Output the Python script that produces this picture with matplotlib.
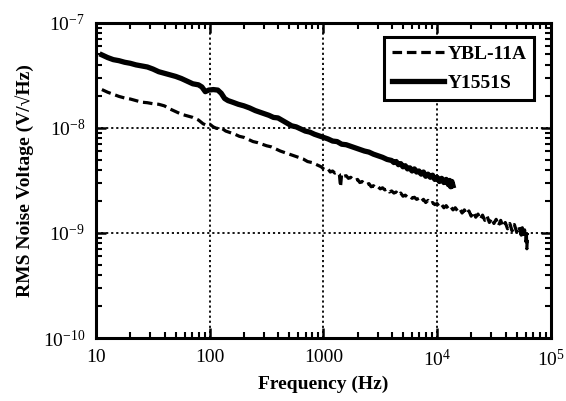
import numpy as np
import matplotlib
matplotlib.use("Agg")
import matplotlib.pyplot as plt
from matplotlib.ticker import FixedLocator, LogLocator, NullFormatter

plt.rcParams['font.family'] = ['Liberation Serif', 'DejaVu Serif']
plt.rcParams['mathtext.fontset'] = 'custom'
plt.rcParams['mathtext.rm'] = 'Liberation Serif'
plt.rcParams['mathtext.it'] = 'Liberation Serif:italic'
plt.rcParams['mathtext.bf'] = 'Liberation Serif:bold'

# ---- data (log10 of frequency in Hz, log10 of RMS noise voltage in V/sqrt(Hz)) ----
y1551s_logf = [1.05, 1.10, 1.15, 1.20, 1.25, 1.30, 1.35, 1.40, 1.45, 1.50, 1.55, 1.60,
               1.65, 1.70, 1.75, 1.80, 1.85, 1.90, 1.93, 1.96, 1.99, 2.03, 2.07, 2.10,
               2.13, 2.16, 2.20, 2.25, 2.30, 2.35, 2.40, 2.44, 2.48, 2.52, 2.56, 2.60,
               2.64, 2.68, 2.72, 2.76, 2.80, 2.84, 2.88, 2.92, 2.96, 3.00, 3.04, 3.08,
               3.12, 3.16, 3.20, 3.24, 3.28, 3.32, 3.36, 3.40, 3.44, 3.48, 3.52, 3.56,
               3.60, 3.62, 3.64, 3.66, 3.68, 3.70, 3.72, 3.74, 3.76, 3.78, 3.80, 3.82,
               3.84, 3.86, 3.88, 3.90, 3.92, 3.94, 3.96, 3.98, 4.00, 4.02, 4.04, 4.06,
               4.08, 4.10, 4.11, 4.12, 4.13, 4.14]
y1551s_logv = [-7.305, -7.33, -7.35, -7.36, -7.375, -7.385, -7.40, -7.41, -7.42, -7.44, -7.465, -7.48,
               -7.495, -7.51, -7.53, -7.555, -7.58, -7.59, -7.61, -7.655, -7.64, -7.635, -7.64, -7.67,
               -7.72, -7.74, -7.755, -7.775, -7.79, -7.81, -7.835, -7.85, -7.865, -7.88, -7.90, -7.905,
               -7.93, -7.955, -7.98, -7.99, -8.01, -8.03, -8.04, -8.06, -8.075, -8.09, -8.105, -8.125,
               -8.13, -8.155, -8.16, -8.175, -8.19, -8.205, -8.22, -8.23, -8.25, -8.265, -8.28, -8.30,
               -8.31, -8.33, -8.32, -8.35, -8.34, -8.37, -8.36, -8.39, -8.38, -8.41, -8.39, -8.42,
               -8.41, -8.44, -8.42, -8.46, -8.44, -8.47, -8.45, -8.49, -8.47, -8.51, -8.48, -8.52,
               -8.49, -8.54, -8.50, -8.56, -8.51, -8.55]

ybl11a_logf = [1.05, 1.10, 1.15, 1.20, 1.25, 1.30, 1.35, 1.40, 1.45, 1.50, 1.55, 1.60,
               1.65, 1.70, 1.75, 1.80, 1.85, 1.90, 1.94, 1.97, 2.00, 2.03, 2.06, 2.10,
               2.14, 2.18, 2.22, 2.26, 2.30, 2.34, 2.38, 2.42, 2.46, 2.50, 2.54, 2.58,
               2.62, 2.66, 2.70, 2.74, 2.78, 2.82, 2.86, 2.90, 2.94, 2.98,
               3.00, 3.02, 3.04, 3.06, 3.08, 3.10, 3.12, 3.14, 3.15, 3.16, 3.18, 3.20,
               3.22, 3.24, 3.26, 3.28, 3.30, 3.32, 3.34, 3.36, 3.38, 3.40, 3.42, 3.44,
               3.46, 3.48, 3.50, 3.52, 3.54, 3.56, 3.58, 3.60, 3.62, 3.64, 3.66, 3.68,
               3.70, 3.72, 3.74, 3.76, 3.78, 3.80, 3.82, 3.84, 3.86, 3.88, 3.90, 3.92,
               3.94, 3.96, 3.98, 4.00, 4.02, 4.04, 4.06, 4.08, 4.10, 4.12, 4.14, 4.16,
               4.18, 4.20, 4.22, 4.24, 4.26, 4.28, 4.30, 4.32, 4.34, 4.36, 4.38, 4.40,
               4.42, 4.44, 4.46, 4.48, 4.50, 4.52, 4.54, 4.56, 4.58, 4.60, 4.62, 4.64,
               4.66, 4.68, 4.70, 4.72, 4.74, 4.75, 4.76, 4.77, 4.78, 4.785, 4.79, 4.795]
ybl11a_logv = [-7.635, -7.66, -7.68, -7.70, -7.715, -7.725, -7.74, -7.755, -7.76, -7.77, -7.775, -7.79,
               -7.82, -7.845, -7.87, -7.885, -7.90, -7.925, -7.96, -7.975, -7.965, -7.99, -8.005, -8.00,
               -8.03, -8.045, -8.06, -8.08, -8.09, -8.11, -8.13, -8.14, -8.155, -8.17, -8.18, -8.20,
               -8.22, -8.235, -8.25, -8.265, -8.28, -8.295, -8.32, -8.33, -8.35, -8.37,
               -8.39, -8.40, -8.39, -8.42, -8.41, -8.43, -8.42, -8.44, -8.56, -8.44, -8.46, -8.455,
               -8.48, -8.47, -8.49, -8.50, -8.49, -8.52, -8.51, -8.53, -8.54, -8.53, -8.56, -8.55,
               -8.57, -8.56, -8.58, -8.57, -8.59, -8.58, -8.61, -8.60, -8.62, -8.61, -8.64, -8.62,
               -8.65, -8.64, -8.66, -8.65, -8.67, -8.66, -8.68, -8.67, -8.70, -8.68, -8.71, -8.69,
               -8.72, -8.71, -8.73, -8.72, -8.75, -8.73, -8.76, -8.74, -8.77, -8.75, -8.78, -8.76,
               -8.79, -8.77, -8.81, -8.78, -8.82, -8.79, -8.84, -8.80, -8.85, -8.82, -8.87, -8.83,
               -8.88, -8.84, -8.90, -8.86, -8.91, -8.87, -8.93, -8.88, -8.94, -8.90, -8.96, -8.91,
               -8.98, -8.92, -8.99, -8.94, -9.02, -8.95, -9.04, -8.97, -9.08, -8.98, -9.15, -9.00]

x_tick_vals = [10, 100, 1000, 1e4, 1e5]
x_tick_labels = ['10', '100', '1000', r'$10^4$', r'$10^5$']
y_tick_vals = [1e-10, 1e-9, 1e-8, 1e-7]
y_tick_labels = [r'$10^{-10}$', r'$10^{-9}$', r'$10^{-8}$', r'$10^{-7}$']

fig = plt.figure(figsize=(5.66, 4.01), dpi=100)
ax = fig.add_axes([0.170, 0.157, 0.803, 0.786])

ax.plot(10 ** np.array(ybl11a_logf), 10 ** np.array(ybl11a_logv), color='black', lw=2.3,
        linestyle=(0, (3.0, 1.5)), label='YBL-11A')
ax.plot(10 ** np.array(y1551s_logf), 10 ** np.array(y1551s_logv), color='black', lw=3.8,
        label='Y1551S')

ax.set_xscale('log')
ax.set_yscale('log')
ax.set_xlim(10, 1e5)
ax.set_ylim(1e-10, 1e-7)

ax.xaxis.set_major_locator(FixedLocator(x_tick_vals))
ax.set_xticklabels(x_tick_labels)
ax.yaxis.set_major_locator(FixedLocator(y_tick_vals))
ax.set_yticklabels(y_tick_labels)
ax.xaxis.set_minor_locator(LogLocator(base=10, subs=np.arange(2, 10)))
ax.yaxis.set_minor_locator(LogLocator(base=10, subs=np.arange(2, 10)))
ax.xaxis.set_minor_formatter(NullFormatter())
ax.yaxis.set_minor_formatter(NullFormatter())

ax.tick_params(which='both', direction='in', top=True, right=True, color='black')
ax.tick_params(which='major', length=7, width=1.8, labelsize=14, pad=8)
ax.tick_params(which='minor', length=4, width=1.5)
for sp in ax.spines.values():
    sp.set_linewidth(2.2)

ax.grid(True, which='major', linestyle=(0, (1.2, 1.6)), color='black', lw=1.3)

ax.set_xlabel('Frequency (Hz)', fontsize=14, fontweight='bold', labelpad=4)
ax.set_ylabel('RMS Noise Voltage (V/\u221aHz)', fontsize=14, fontweight='bold', labelpad=6)

leg = ax.legend(loc='upper right', bbox_to_anchor=(0.985, 0.985), fancybox=False, framealpha=1,
                edgecolor='black', handlelength=2.7, handletextpad=0.15, borderpad=0.4,
                labelspacing=0.6, prop={'family': 'Liberation Serif', 'weight': 'bold', 'size': 14})
leg.get_frame().set_linewidth(2.2)

fig.savefig('out.png', dpi=100)
